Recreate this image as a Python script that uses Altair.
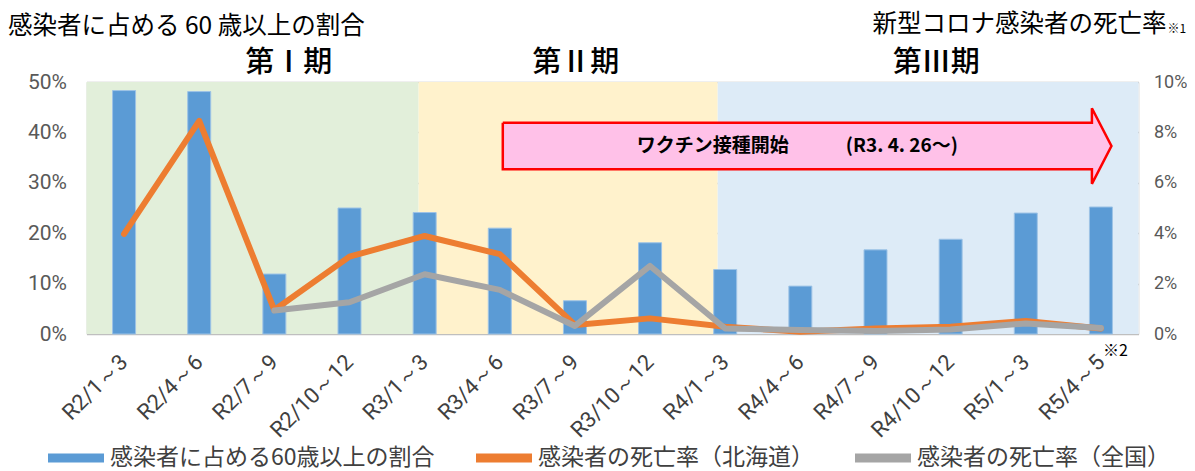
import altair as alt
import pandas as pd

categories = ["R2/1～3", "R2/4～6", "R2/7～9", "R2/10～12", "R3/1～3", "R3/4～6", "R3/7～9",
              "R3/10～12", "R4/1～3", "R4/4～6", "R4/7～9", "R4/10～12", "R5/1～3", "R5/4～5"]
share60 = [48.3, 48.1, 11.9, 25.0, 24.1, 21.0, 6.6, 18.1, 12.8, 9.5, 16.7, 18.8, 24.0, 25.2]
hokkaido = [3.97, 8.46, 0.95, 3.07, 3.89, 3.17, 0.36, 0.62, 0.29, 0.09, 0.22, 0.29, 0.52, 0.22]
national = [None, None, 0.93, 1.26, 2.37, 1.75, 0.32, 2.70, 0.22, 0.16, 0.12, 0.18, 0.42, 0.24]

series_names = ["感染者に占める60歳以上の割合", "感染者の死亡率（北海道）", "感染者の死亡率（全国）"]
series_colors = ["#5b9bd5", "#ed7d31", "#a5a5a5"]

period_labels = ["第Ⅰ期", "第Ⅱ期", "第Ⅲ期"]
period_start = [0, 4.42, 8.40]
period_end = [4.42, 8.40, 14]
period_center = [2.69, 6.51, 11.31]
period_colors = ["#e2efda", "#fff2cc", "#ddebf7"]

arrow_x = [5.54, 13.38, 13.38, 13.64, 13.38, 13.38, 5.54, 5.54]
arrow_y = [41.9, 41.9, 44.8, 37.3, 29.8, 32.7, 32.7, 41.9]
arrow_text = "ワクチン接種開始　　　(R3. 4. 26～)"
arrow_text_x = 9.46
arrow_text_y = 37.3

left_title = "感染者に占める 60 歳以上の割合"
right_title = "新型コロナ感染者の死亡率"

W, H = 1052, 252
FONT_JP = "Noto Sans CJK JP"
FONT_NUM = "Roboto, sans-serif"

xq = alt.Scale(domain=[0, 14], nice=False, zero=False)
band = alt.Scale(domain=categories, paddingInner=0.694, paddingOuter=0.347)
yl = alt.Scale(domain=[0, 50], nice=False)
yr = alt.Scale(domain=[0, 10], nice=False)

df_main = pd.DataFrame({"cat": categories, "share": share60, "hk": hokkaido, "nat": national,
                        "series": series_names[0]})
df_per = pd.DataFrame({"start": period_start, "end": period_end, "label": period_labels,
                       "center": period_center, "color": period_colors})
df_arrow = pd.DataFrame({"x": arrow_x, "y": arrow_y, "o": list(range(len(arrow_x)))})
df_one = pd.DataFrame({"t": [arrow_text], "x": [arrow_text_x], "y": [arrow_text_y]})

bg = alt.Chart(df_per).mark_rect().encode(
    x=alt.X("start:Q", scale=xq, axis=None),
    x2="end:Q",
    color=alt.Color("color:N", scale=None, legend=None),
)

per_txt = alt.Chart(df_per).mark_text(font=FONT_JP, fontSize=29, fontWeight=500, color="#000000",
                                      baseline="middle").encode(
    x=alt.X("center:Q", scale=xq, axis=None),
    y=alt.value(-19.5),
    text="label:N",
)

bars = alt.Chart(df_main).mark_bar(stroke="#9dc3e6", strokeWidth=1).encode(
    x=alt.X("cat:N", scale=band, sort=categories,
            axis=alt.Axis(title=None, labelAngle=315, labelAlign="right", labelBaseline="middle",
                          labelFont=FONT_NUM, labelFontSize=22, labelColor="#404040",
                          labelPadding=24, ticks=False, domain=False, grid=False)),
    y=alt.Y("share:Q", scale=yl,
            axis=alt.Axis(values=[0, 10, 20, 30, 40, 50], labelExpr="datum.value + '%'",
                          labelFont=FONT_NUM, labelFontSize=21, labelColor="#595959",
                          labelPadding=20, ticks=False, domain=False, grid=True,
                          gridColor="#bfbfbf", gridWidth=1.5, title=None)),
    color=alt.Color("series:N", scale=alt.Scale(domain=series_names, range=series_colors),
                    legend=alt.Legend(title=None, orient="none", legendX=-24.5, legendY=362,
                                      direction="horizontal", columns=3, columnPadding=41,
                                      symbolType="M-2,-0.32H2V0.32H-2Z", symbolSize=784,
                                      symbolStrokeWidth=0, labelFont=FONT_JP, labelFontSize=23,
                                      labelColor="#404040", labelLimit=600, labelOffset=20)),
)

arrow = alt.Chart(df_arrow).mark_line(fill="#ffc1e8", stroke="#ff0000", strokeWidth=2.5,
                                      strokeJoin="miter").encode(
    x=alt.X("x:Q", scale=xq, axis=None),
    y=alt.Y("y:Q", scale=yl, axis=None),
    order="o:Q",
)

arrow_lbl = alt.Chart(df_one).mark_text(font=FONT_JP, fontSize=19, fontWeight="bold",
                                        color="#000000", baseline="middle").encode(
    x=alt.X("x:Q", scale=xq, axis=None),
    y=alt.Y("y:Q", scale=yl, axis=None),
    text="t:N",
)

line_hk = alt.Chart(df_main).mark_line(color=series_colors[1], strokeWidth=6, strokeCap="round",
                                       strokeJoin="round").encode(
    x=alt.X("cat:N", scale=band, sort=categories, axis=None),
    y=alt.Y("hk:Q", scale=yr,
            axis=alt.Axis(orient="right", values=[0, 2, 4, 6, 8, 10],
                          labelExpr="datum.value + '%'", labelFont=FONT_NUM, labelFontSize=18,
                          labelColor="#595959", labelPadding=15, ticks=False, domain=False,
                          grid=False, title=None)),
)

line_nat = alt.Chart(df_main).transform_filter("datum.nat != null").mark_line(
    color=series_colors[2], strokeWidth=6, strokeCap="round", strokeJoin="round").encode(
    x=alt.X("cat:N", scale=band, sort=categories, axis=None),
    y=alt.Y("nat:Q", scale=yr, axis=None),
)

title_l = alt.Chart(pd.DataFrame({"t": [left_title]})).mark_text(
    font=FONT_JP, fontSize=24.5, align="left", baseline="middle", color="#000000").encode(
    x=alt.value(-78.5), y=alt.value(-55), text="t:N")
title_r = alt.Chart(pd.DataFrame({"t": [right_title]})).mark_text(
    font=FONT_JP, fontSize=24.5, align="right", baseline="middle", color="#000000").encode(
    x=alt.value(1080), y=alt.value(-57), text="t:N")
note1 = alt.Chart(pd.DataFrame({"t": ["※1"]})).mark_text(
    font=FONT_JP, fontSize=12, align="left", baseline="middle", color="#000000").encode(
    x=alt.value(1081), y=alt.value(-53.5), text="t:N")
note2 = alt.Chart(pd.DataFrame({"t": ["※2"]})).mark_text(
    font=FONT_JP, fontSize=16, align="left", baseline="middle", color="#000000").encode(
    x=alt.value(1016.5), y=alt.value(269), text="t:N")

chart = alt.layer(bg, per_txt, bars, arrow, arrow_lbl, line_hk, line_nat,
                  title_l, title_r, note1, note2).resolve_scale(
    x="independent", y="independent", color="independent"
).properties(
    width=W, height=H, autosize=alt.AutoSizeParams(type="none"),
    padding={"left": 78.5, "top": 74, "right": 48.5, "bottom": 137},
).configure_view(stroke="#808080", strokeWidth=2.5).configure(background="#ffffff")

chart.save("out.html", embed_options={"renderer": "svg", "actions": False})
